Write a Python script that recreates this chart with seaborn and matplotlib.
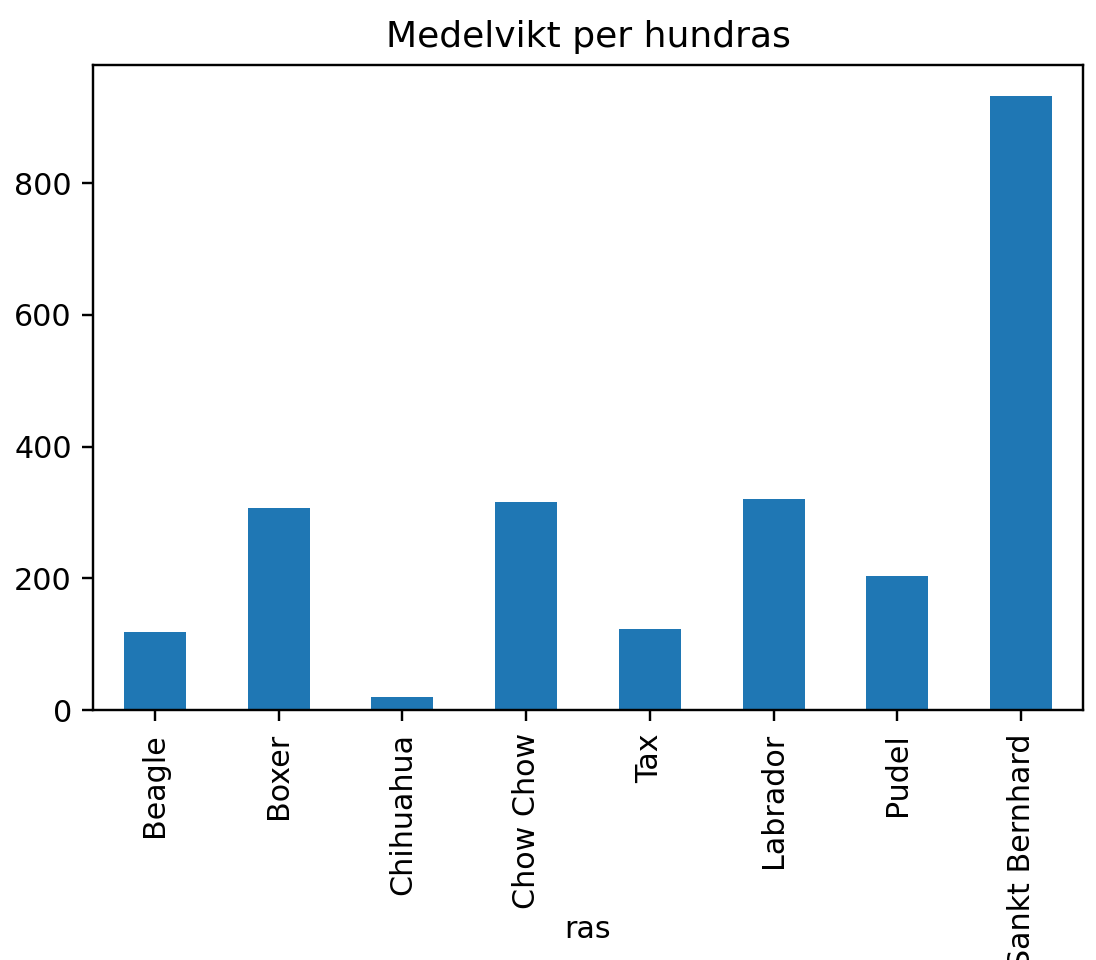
import matplotlib
matplotlib.use('Agg')
import matplotlib.pyplot as plt
import pandas as pd
import seaborn as sns

# medelvikt per ras
breeds = ['Beagle', 'Boxer', 'Chihuahua', 'Chow Chow', 'Tax', 'Labrador', 'Pudel', 'Sankt Bernhard']
weights = [119, 307, 19, 316, 123, 320, 204, 933]

scale = 2.17
plt.rcParams.update({
    'font.family': ['DejaVu Sans'],
    'font.size': 10 * scale,
    'axes.linewidth': 0.8 * scale,
    'xtick.major.size': 3.5 * scale,
    'ytick.major.size': 3.5 * scale,
    'xtick.major.width': 0.8 * scale,
    'ytick.major.width': 0.8 * scale,
    'xtick.major.pad': 3.5 * scale + 1.5,
    'ytick.major.pad': 3.5 * scale,
    'axes.titlepad': 6 * scale,
    'axes.titlesize': 12 * scale,
})


def main():
    df = pd.DataFrame({'ras': breeds, 'vikt': weights})

    fig = plt.figure(figsize=(10.96, 9.6), dpi=100)
    ax = fig.add_axes([93 / 1096, 1 - 710 / 960, (1083 - 93) / 1096, (710 - 65) / 960])

    sns.barplot(data=df, x='ras', y='vikt', color='#1f77b4', saturation=1,
                width=0.5, linewidth=0, ax=ax)

    ax.set_xlim(-0.5, len(breeds) - 0.5)
    ax.set_title('Medelvikt per hundras')
    ax.set_ylabel('')
    ax.set_xlabel('ras')
    ax.tick_params(axis='x', labelrotation=90)
    # xlabel hamnar som i originalet, mitt bland etiketterna
    ax.xaxis.set_label_coords(0.5, -0.318)

    fig.savefig('out.png', dpi=100)


if __name__ == '__main__':
    main()
